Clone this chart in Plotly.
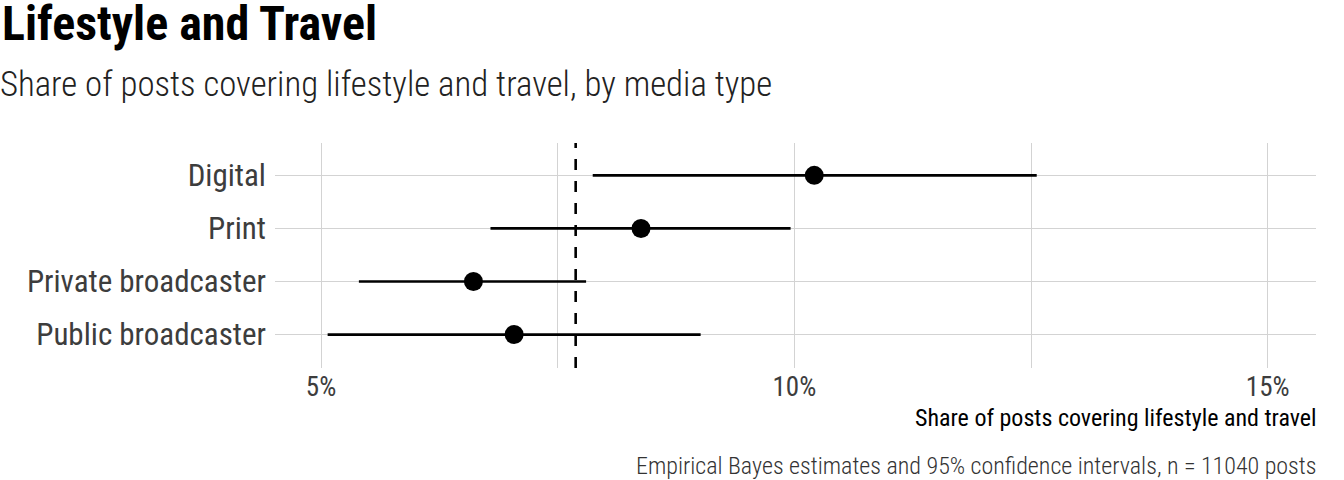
import plotly.graph_objects as go

categories = ["Digital", "Print", "Private broadcaster", "Public broadcaster"]
estimate = [10.21, 8.38, 6.61, 7.04]
ci_low = [7.87, 6.79, 5.40, 5.07]
ci_high = [12.56, 9.96, 7.80, 9.01]
overall = 7.69
tick_vals = [5, 10, 15]
tick_text = ["5%", "10%", "15%"]

FONT = "Roboto Condensed, Liberation Sans Narrow, Roboto, sans-serif"
W, H = 1344, 480
L, R, T, B = 275, 28, 143, 112
pw, ph = W - L - R, H - T - B

def px(x):
    return (x - L) / pw

def py(y):
    return (H - B - y) / ph

fig = go.Figure()

for c, lo, hi in zip(categories, ci_low, ci_high):
    fig.add_trace(go.Scatter(x=[lo, hi], y=[c, c], mode="lines",
                             line=dict(color="black", width=2.7),
                             showlegend=False, hoverinfo="skip"))

fig.add_trace(go.Scatter(x=estimate, y=categories, mode="markers",
                         marker=dict(color="black", size=19),
                         showlegend=False))

fig.add_shape(type="line", x0=overall, x1=overall, xref="x", y0=0, y1=1, yref="paper",
              line=dict(color="black", width=2.6, dash="11px,11px"), layer="above")

fig.update_layout(
    width=W, height=H,
    margin=dict(l=L, r=R, t=T, b=B),
    paper_bgcolor="white", plot_bgcolor="white",
    font=dict(family=FONT, color="#333333"),
    xaxis=dict(range=[4.514, 15.51], tickvals=tick_vals, ticktext=tick_text,
               showgrid=True, gridcolor="#d3d3d3", gridwidth=1, zeroline=False,
               showline=False, ticks="",
               tickfont=dict(size=27, color="#3d3d3d", family=FONT),
               minor=dict(tickvals=[7.5, 12.5], showgrid=True, gridcolor="#d3d3d3", gridwidth=1)),
    yaxis=dict(type="category", categoryorder="array", categoryarray=categories,
               range=[3.63, -0.61], showgrid=True, gridcolor="#d3d3d3", gridwidth=1,
               zeroline=False, showline=False, ticks="", ticklabelstandoff=8,
               tickfont=dict(size=31, color="#3d3d3d", family=FONT)),
)

fig.add_annotation(text="Lifestyle and Travel", xref="paper", yref="paper",
                   x=px(0), y=py(24), xanchor="left", yanchor="middle", showarrow=False,
                   font=dict(size=48, color="black", family=FONT, weight=700))
fig.add_annotation(text="Share of posts covering lifestyle and travel, by media type",
                   xref="paper", yref="paper", x=px(0), y=py(84), xanchor="left",
                   yanchor="middle", showarrow=False, xshift=-2,
                   font=dict(size=34.8, color="#222222", family=FONT, weight=300))
fig.add_annotation(text="Share of posts covering lifestyle and travel", xref="paper", yref="paper",
                   x=1, y=py(418), xanchor="right", yanchor="middle", showarrow=False,
                   xshift=3, font=dict(size=24, color="black", family=FONT))
fig.add_annotation(text="Empirical Bayes estimates and 95% confidence intervals, n = 11040 posts",
                   xref="paper", yref="paper", x=1, y=py(466), xanchor="right",
                   yanchor="middle", showarrow=False, xshift=3,
                   font=dict(size=24, color="#333333", family=FONT, weight=300))

fig.write_html("out.html", config={"displayModeBar": False},
               post_script="document.body.style.margin='0';")
